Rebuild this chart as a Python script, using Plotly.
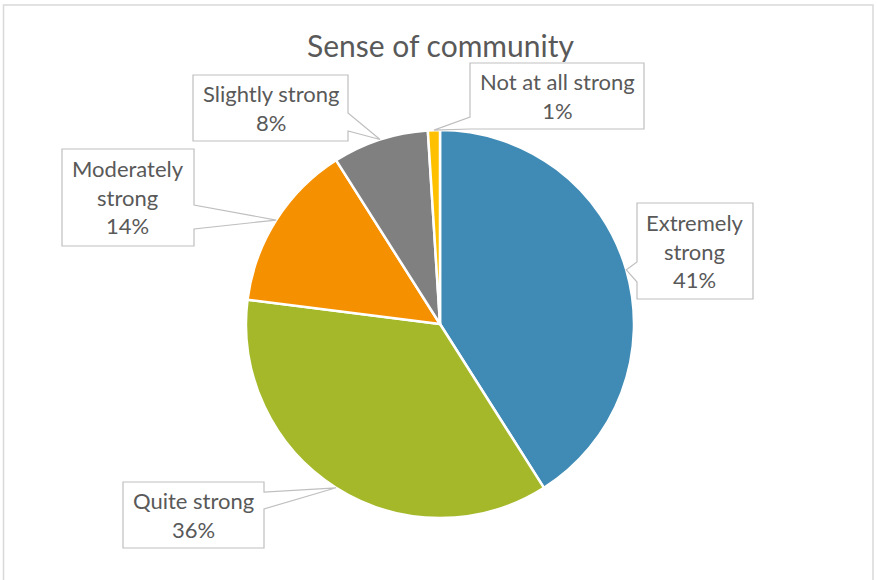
import math
import plotly.graph_objects as go

# Survey responses: "Sense of community"
categories = ["Extremely strong", "Quite strong", "Moderately strong",
              "Slightly strong", "Not at all strong"]
shares = [41, 36, 14, 8, 1]
label_lines = [["Extremely", "strong"], ["Quite strong"], ["Moderately", "strong"],
               ["Slightly strong"], ["Not at all strong"]]
colors = ["#3F8BB5", "#A5B82A", "#F59100", "#808080", "#FFC000"]

W, H = 877, 580
CX, CY, R = 440, 324, 194          # pie centre and radius in pixels
TEXT = "#595959"
FONT = "Lato"

# Callout boxes (pixels): x0, x1, y0, y1, side of the pointer, pointer base y-range
callouts = [
    (637, 753, 203, 299, "left", 262, 282),
    (123, 264, 482, 548, "right", 492, 509),
    (62, 194, 149, 246, "right", 205, 229),
    (193, 348, 75, 141, "right", 113, 131),
    (470, 644, 63, 129, "left", 117, 129),
]


def px(x):
    return x / W


def py(y):
    return 1 - y / H


fig = go.Figure(go.Pie(
    labels=categories,
    values=shares,
    sort=False,
    direction="clockwise",
    rotation=0,
    textinfo="none",
    hoverinfo="label+percent",
    marker=dict(colors=colors, line=dict(color="white", width=2.5)),
    domain=dict(x=[px(CX - R), px(CX + R)], y=[py(CY + R), py(CY - R)]),
    showlegend=False,
))

shapes = [dict(type="rect", xref="paper", yref="paper",
               x0=px(3.5), x1=px(873), y0=-0.05, y1=py(5),
               line=dict(color="#D9D9D9", width=1.5), fillcolor="rgba(0,0,0,0)",
               layer="below")]
annotations = []

total = sum(shares)
cum = 0
for name, val, lines, box in zip(categories, shares, label_lines, callouts):
    mid = (cum + val / 2) / total * 2 * math.pi
    cum += val
    tx = CX + R * math.sin(mid)
    ty = CY - R * math.cos(mid)
    x0, x1, y0, y1, side, b1, b2 = box
    pts = [(x0, y0), (x1, y0)]
    if side == "right":
        pts += [(x1, b1), (tx, ty), (x1, b2)]
    pts += [(x1, y1), (x0, y1)]
    if side == "left":
        pts += [(x0, b2), (tx, ty), (x0, b1)]
    path = "M " + " L ".join(f"{px(a):.5f},{py(b):.5f}" for a, b in pts) + " Z"
    shapes.append(dict(type="path", xref="paper", yref="paper", path=path,
                       fillcolor="white", line=dict(color="#BFBFBF", width=1.2),
                       layer="above"))
    text = "<br>".join(lines + [f"{val}%"])
    annotations.append(dict(x=px((x0 + x1) / 2), y=py((y0 + y1) / 2),
                            xref="paper", yref="paper", text=text,
                            showarrow=False, xanchor="center", yanchor="middle",
                            font=dict(family=FONT, size=22, color=TEXT)))

annotations.append(dict(x=px(440), y=py(45), xref="paper", yref="paper",
                        text="Sense of community", showarrow=False,
                        xanchor="center", yanchor="middle",
                        font=dict(family=FONT, size=30, color=TEXT)))

fig.update_layout(
    width=W, height=H,
    margin=dict(l=0, r=0, t=0, b=0),
    paper_bgcolor="white",
    plot_bgcolor="white",
    shapes=shapes,
    annotations=annotations,
)

fig.write_html("out.html")
